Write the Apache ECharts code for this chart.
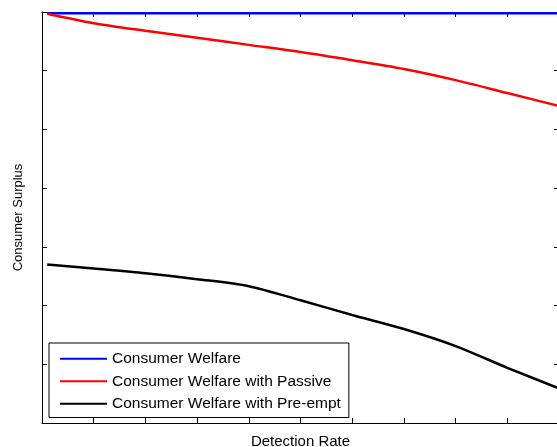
<!DOCTYPE html>
<html><head><meta charset="utf-8">
<script src="https://cdn.jsdelivr.net/npm/echarts@6/dist/echarts.min.js"></script>
<style>html,body{margin:0;padding:0;background:#fff}#c{width:557px;height:447px}</style>
</head><body><div id="c"></div>
<script>
const xValues = [0.01, 0.1, 0.2, 0.3, 0.4, 0.5, 0.6, 0.7, 0.8, 0.9, 1.0];
const welfare = [9.98, 9.98, 9.98, 9.98, 9.98, 9.98, 9.98, 9.98, 9.98, 9.98, 9.98];
const welfarePassive = [9.97, 9.81, 9.68, 9.56, 9.44, 9.32, 9.18, 9.03, 8.84, 8.62, 8.40];
const welfarePreempt = [5.70, 5.63, 5.55, 5.45, 5.33, 5.09, 4.84, 4.60, 4.31, 3.94, 3.59];
const seriesNames = ['Consumer Welfare', 'Consumer Welfare with Passive', 'Consumer Welfare with Pre-empt'];
const xTitle = 'Detection Rate';
const yTitle = 'Consumer Surplus';

const pair = arr => xValues.map((x, i) => [x, arr[i]]);
const font = 'Liberation Sans, Arial, sans-serif';
const tick = () => ({show: true, inside: true, length: 5, lineStyle: {color: '#000', width: 1}});
const line = () => ({show: true, onZero: false, lineStyle: {color: '#000', width: 1}});
const chart = echarts.init(document.getElementById('c'));
chart.setOption({
  animation: false,
  backgroundColor: '#fff',
  grid: {left: 42, top: 12, width: 517, height: 411, containLabel: false, outerBoundsMode: 'none'},
  xAxis: [
    {type: 'value', min: 0, max: 1, interval: 0.1, position: 'bottom',
     axisLine: line(), axisTick: tick(), axisLabel: {show: false}, splitLine: {show: false},
     name: xTitle, nameLocation: 'middle', nameGap: 11,
     nameTextStyle: {fontFamily: font, fontSize: 15, color: '#000'}},
    {type: 'value', min: 0, max: 1, interval: 0.1, position: 'top',
     axisLine: line(), axisTick: tick(), axisLabel: {show: false}, splitLine: {show: false}}
  ],
  yAxis: [
    {type: 'value', min: 3, max: 10, interval: 1, position: 'left',
     axisLine: line(), axisTick: tick(), axisLabel: {show: false}, splitLine: {show: false},
     name: yTitle, nameLocation: 'middle', nameGap: 17, nameRotate: 90,
     nameTextStyle: {fontFamily: font, fontSize: 13, color: '#000'}},
    {type: 'value', min: 3, max: 10, interval: 1, position: 'right',
     axisLine: line(), axisTick: tick(), axisLabel: {show: false}, splitLine: {show: false}}
  ],
  legend: {
    left: 49, top: 343, orient: 'vertical', icon: 'rect',
    itemWidth: 47, itemHeight: 2, itemGap: 5,
    padding: [7, 8, 5, 11],
    backgroundColor: '#fff', borderColor: '#000', borderWidth: 1,
    textStyle: {fontFamily: font, fontSize: 15.5, color: '#000', lineHeight: 17.5, padding: [0, 0, 0, 0]},
    data: seriesNames
  },
  series: [
    {name: seriesNames[0], type: 'line', data: pair(welfare), showSymbol: false, symbol: 'none',
     color: '#0000ff', lineStyle: {color: '#0000ff', width: 2.5}, clip: false},
    {name: seriesNames[1], type: 'line', data: pair(welfarePassive), showSymbol: false, symbol: 'none', smooth: 0.3,
     color: '#ff0000', lineStyle: {color: '#ff0000', width: 2.5}},
    {name: seriesNames[2], type: 'line', data: pair(welfarePreempt), showSymbol: false, symbol: 'none', smooth: 0.3,
     color: '#000000', lineStyle: {color: '#000000', width: 2.5}}
  ]
});
</script></body></html>
